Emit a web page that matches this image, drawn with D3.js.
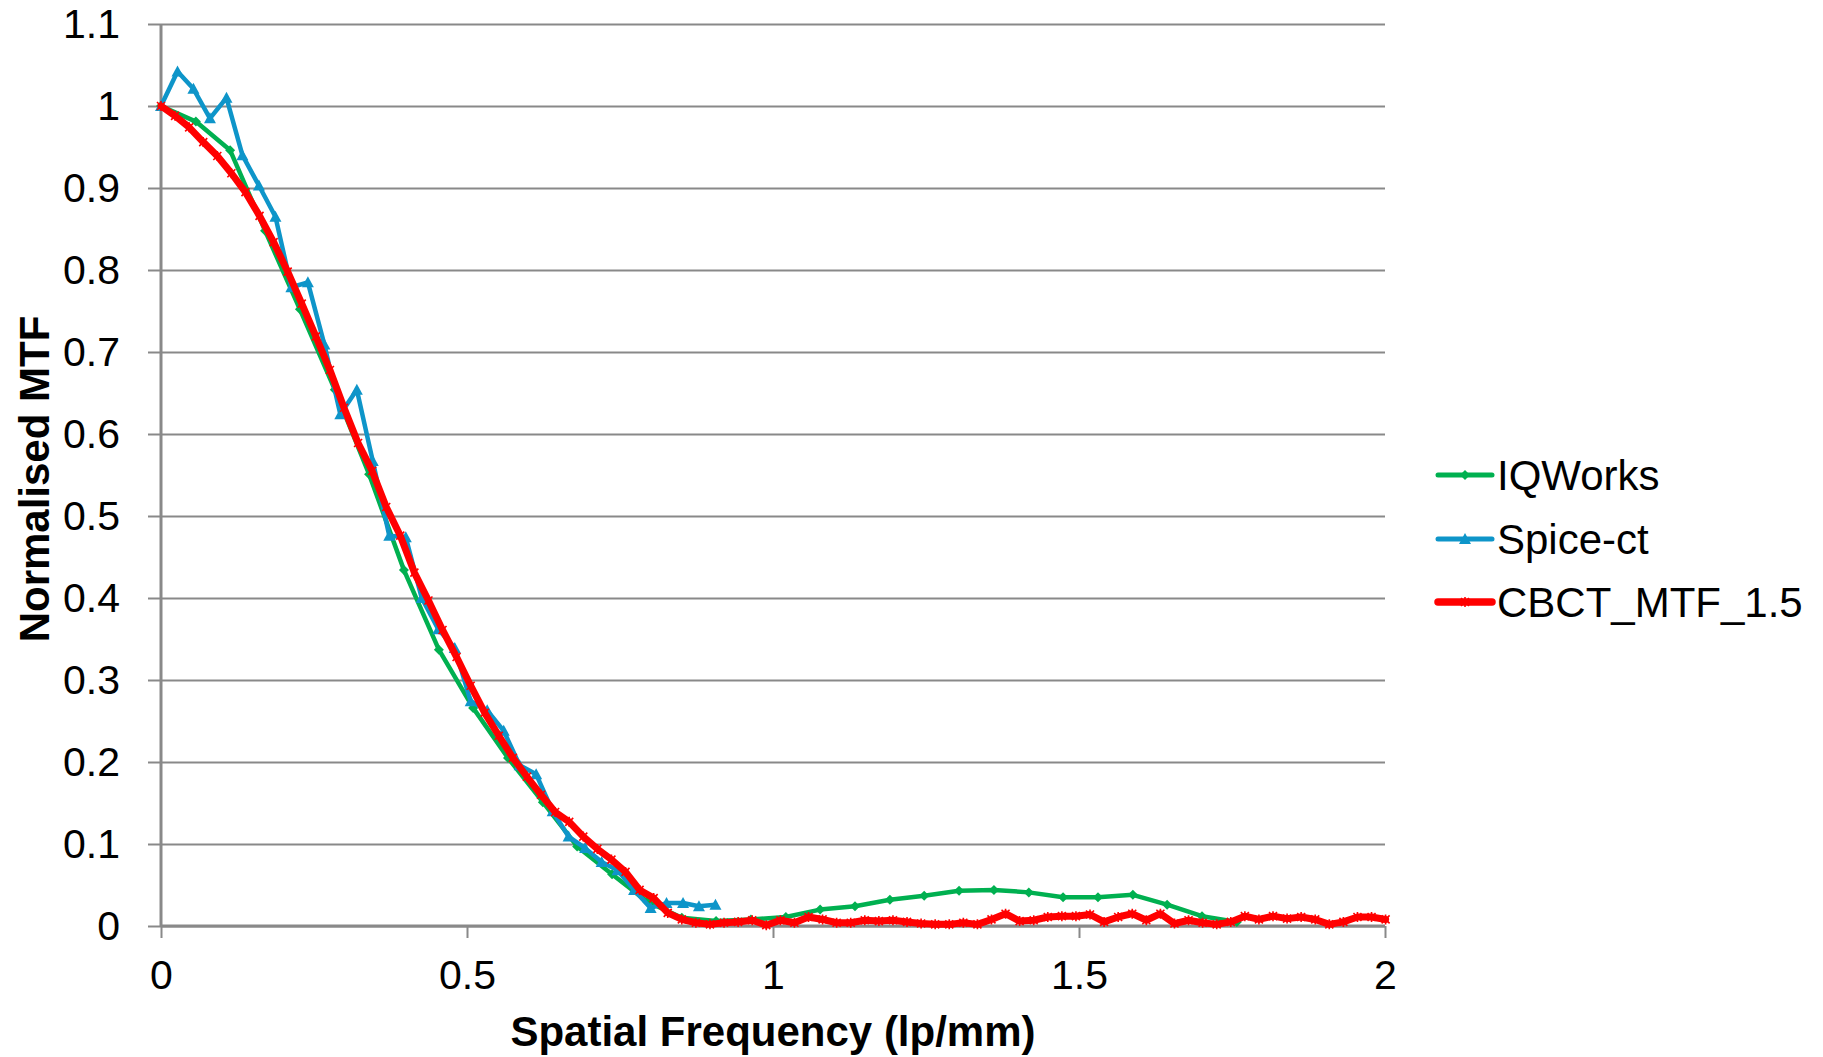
<!DOCTYPE html>
<html>
<head>
<meta charset="utf-8">
<script src="https://cdn.jsdelivr.net/npm/d3@7"></script>
<style>
  html, body { margin: 0; padding: 0; background: #fff; }
  svg { display: block; }
  text { font-family: "Liberation Sans", Arial, sans-serif; fill: #000; }
</style>
</head>
<body>
<svg id="chart" width="1823" height="1057"></svg>
<script>
// ---------------- data ----------------
const seriesNames = ["IQWorks", "Spice-ct", "CBCT_MTF_1.5"];
const seriesColors = ["#00B050", "#0E95C9", "#FF0000"];

const iqFreq = [0, 0.057, 0.113, 0.170, 0.227, 0.284, 0.340, 0.397, 0.454, 0.510, 0.567, 0.624, 0.680, 0.737, 0.794, 0.851,
  0.907, 0.964, 1.021, 1.077, 1.134, 1.191, 1.247, 1.304, 1.361, 1.418, 1.474, 1.531, 1.588, 1.644, 1.701, 1.758];
const iqMTF = [1.000, 0.981, 0.946, 0.848, 0.752, 0.654, 0.551, 0.434, 0.337, 0.266, 0.205, 0.151, 0.097, 0.063, 0.030, 0.010,
  0.006, 0.008, 0.011, 0.020, 0.024, 0.032, 0.037, 0.043, 0.044, 0.041, 0.035, 0.035, 0.038, 0.026, 0.012, 0.005];

const spiceFreq = [0, 0.027, 0.053, 0.080, 0.107, 0.133, 0.160, 0.187, 0.213, 0.240, 0.267, 0.293, 0.320, 0.346, 0.373, 0.400,
  0.426, 0.453, 0.480, 0.506, 0.533, 0.560, 0.586, 0.613, 0.640, 0.666, 0.693, 0.720, 0.746, 0.773, 0.800, 0.826, 0.853, 0.879, 0.906];
const spiceMTF = [1.000, 1.042, 1.021, 0.985, 1.010, 0.940, 0.903, 0.865, 0.779, 0.785, 0.709, 0.624, 0.654, 0.567, 0.476, 0.474,
  0.400, 0.362, 0.339, 0.274, 0.263, 0.238, 0.196, 0.185, 0.140, 0.109, 0.095, 0.078, 0.068, 0.044, 0.022, 0.028, 0.028, 0.024, 0.026];

const cbctFreq = [0, 0.023, 0.046, 0.069, 0.092, 0.115, 0.138, 0.161, 0.184, 0.207, 0.230, 0.253, 0.276, 0.299, 0.322, 0.345,
  0.368, 0.391, 0.414, 0.437, 0.460, 0.483, 0.506, 0.529, 0.552, 0.575, 0.598, 0.621, 0.644, 0.667, 0.690, 0.713,
  0.736, 0.759, 0.782, 0.805, 0.828, 0.851, 0.874, 0.897, 0.920, 0.943, 0.966, 0.989, 1.012, 1.035, 1.058, 1.081,
  1.104, 1.127, 1.150, 1.173, 1.196, 1.219, 1.242, 1.265, 1.288, 1.311, 1.334, 1.357, 1.380, 1.403, 1.426, 1.449,
  1.472, 1.495, 1.518, 1.541, 1.564, 1.587, 1.610, 1.633, 1.656, 1.679, 1.702, 1.725, 1.748, 1.771, 1.794, 1.817,
  1.840, 1.863, 1.886, 1.909, 1.932, 1.955, 1.978, 2.001];
const cbctMTF = [1.000, 0.988, 0.974, 0.956, 0.939, 0.918, 0.895, 0.866, 0.834, 0.798, 0.759, 0.719, 0.678, 0.632, 0.589, 0.555,
  0.511, 0.476, 0.431, 0.397, 0.361, 0.328, 0.293, 0.260, 0.232, 0.205, 0.182, 0.160, 0.139, 0.127, 0.109, 0.094,
  0.081, 0.066, 0.044, 0.034, 0.016, 0.008, 0.004, 0.002, 0.004, 0.005, 0.007, 0.001, 0.007, 0.004, 0.011, 0.008,
  0.004, 0.004, 0.007, 0.006, 0.007, 0.005, 0.003, 0.002, 0.002, 0.004, 0.002, 0.008, 0.015, 0.006, 0.007, 0.011,
  0.012, 0.012, 0.014, 0.005, 0.011, 0.015, 0.007, 0.015, 0.003, 0.007, 0.004, 0.002, 0.005, 0.012, 0.008, 0.012,
  0.009, 0.011, 0.008, 0.002, 0.005, 0.011, 0.011, 0.008];

const xTickValues = [0, 0.5, 1, 1.5, 2];
const xTickLabels = ["0", "0.5", "1", "1.5", "2"];
const yTickValues = [0, 0.1, 0.2, 0.3, 0.4, 0.5, 0.6, 0.7, 0.8, 0.9, 1.0, 1.1];
const yTickLabels = ["0", "0.1", "0.2", "0.3", "0.4", "0.5", "0.6", "0.7", "0.8", "0.9", "1", "1.1"];
const xTitle = "Spatial Frequency (lp/mm)";
const yTitle = "Normalised MTF";

// ---------------- drawing ----------------
const svg = d3.select("#chart");
svg.append("rect").attr("width", 1823).attr("height", 1057).attr("fill", "#fff");

const x = d3.scaleLinear().domain([0, 2]).range([161, 1385]);
const y = d3.scaleLinear().domain([0, 1.1]).range([926, 24]);
const axisColor = "#898989";

// gridlines
const grid = svg.append("g").attr("transform", `translate(${x(0)},0)`)
  .call(d3.axisLeft(y).tickValues(yTickValues).tickSize(-(x(2) - x(0))).tickFormat(""));
grid.select(".domain").remove();
grid.selectAll("line").attr("stroke", axisColor).attr("stroke-width", 2);

// y axis
const yAxis = svg.append("g").attr("transform", `translate(${x(0)},0)`)
  .call(d3.axisLeft(y).tickValues(yTickValues).tickSize(13).tickPadding(28)
    .tickFormat((d, i) => yTickLabels[i]));
yAxis.select(".domain").attr("stroke", axisColor).attr("stroke-width", 3).attr("d", `M0,${y(1.1)}V${y(0)}`);
yAxis.selectAll("line").attr("stroke", axisColor).attr("stroke-width", 2);
yAxis.selectAll("text").attr("font-size", 41).attr("font-family", "Liberation Sans, Arial, sans-serif").attr("fill", "#000");

// x axis
const xAxis = svg.append("g").attr("transform", `translate(0,${y(0)})`)
  .call(d3.axisBottom(x).tickValues(xTickValues).tickSize(12).tickPadding(22)
    .tickFormat((d, i) => xTickLabels[i]));
xAxis.select(".domain").attr("stroke", axisColor).attr("stroke-width", 3).attr("d", `M${x(0)},0H${x(2)}`);
xAxis.selectAll("line").attr("stroke", axisColor).attr("stroke-width", 2);
xAxis.selectAll("text").attr("font-size", 41).attr("font-family", "Liberation Sans, Arial, sans-serif").attr("fill", "#000");

// titles
svg.append("text").attr("x", (x(0) + x(2)) / 2).attr("y", 1046)
  .attr("text-anchor", "middle").attr("font-size", 42).attr("font-weight", "bold").text(xTitle);
svg.append("text").attr("transform", `translate(49,${(y(0) + y(1.1)) / 2 + 4}) rotate(-90)`)
  .attr("text-anchor", "middle").attr("font-size", 42).attr("font-weight", "bold").text(yTitle);

// series
const series = [
  { freq: iqFreq, mtf: iqMTF, color: seriesColors[0], width: 4.5, marker: "diamond" },
  { freq: spiceFreq, mtf: spiceMTF, color: seriesColors[1], width: 4.5, marker: "triangle" },
  { freq: cbctFreq, mtf: cbctMTF, color: seriesColors[2], width: 7, marker: "star" }
];
const line = d3.line().x(d => x(d[0])).y(d => y(d[1]));

function drawMarker(g, kind, cx, cy, color) {
  if (kind === "diamond") {
    g.append("path").attr("d", `M${cx},${cy - 5}L${cx + 5},${cy}L${cx},${cy + 5}L${cx - 5},${cy}Z`).attr("fill", color);
  } else if (kind === "triangle") {
    g.append("path").attr("d", `M${cx},${cy - 6}L${cx + 6},${cy + 5}L${cx - 6},${cy + 5}Z`).attr("fill", color);
  } else {
    g.append("path").attr("d", `M${cx - 4},${cy - 4}L${cx + 4},${cy + 4}M${cx - 4},${cy + 4}L${cx + 4},${cy - 4}M${cx},${cy - 5}V${cy + 5}`)
      .attr("stroke", color).attr("stroke-width", 1.6).attr("fill", "none");
  }
}

series.forEach(s => {
  const pts = s.freq.map((f, i) => [f, s.mtf[i]]);
  const g = svg.append("g");
  g.append("path").datum(pts).attr("d", line).attr("fill", "none")
    .attr("stroke", s.color).attr("stroke-width", s.width).attr("stroke-linejoin", "round").attr("stroke-linecap", "round");
  pts.forEach(p => drawMarker(g, s.marker, x(p[0]), y(p[1]), s.color));
});

// legend
const legendY = [475, 539, 602];
series.forEach((s, i) => {
  const g = svg.append("g");
  g.append("line").attr("x1", 1438).attr("x2", 1492).attr("y1", legendY[i]).attr("y2", legendY[i])
    .attr("stroke", s.color).attr("stroke-width", s.width + 0.5).attr("stroke-linecap", "round");
  drawMarker(g, s.marker, 1465, legendY[i], s.color);
  g.append("text").attr("x", 1497).attr("y", legendY[i] + 15).attr("font-size", 42).text(seriesNames[i]);
});
</script>
</body>
</html>
